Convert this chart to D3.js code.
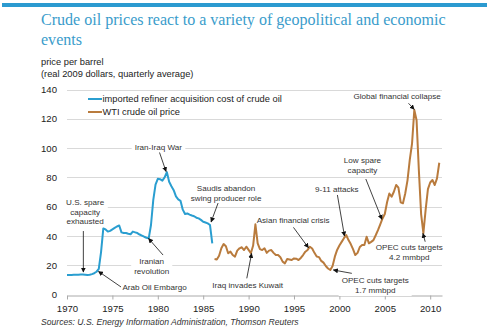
<!DOCTYPE html>
<html><head><meta charset="utf-8">
<script src="https://cdn.jsdelivr.net/npm/d3@7"></script>
<style>
body{margin:0;background:#fff;}
svg{display:block;font-family:Arial,"Liberation Sans",Helvetica,sans-serif;}
</style></head>
<body>
<svg id="chart" width="489" height="330"></svg>
<script>
// ---------- data ----------
const racYears = [1970,1970.25,1970.5,1970.75,1971,1971.25,1971.5,1971.75,1972,1972.25,1972.5,1972.75,
  1973,1973.25,1973.5,1973.75,1974,1974.25,1974.5,1974.75,1975,1975.25,1975.5,1975.75,
  1976,1976.25,1976.5,1976.75,1977,1977.25,1977.5,1977.75,1978,1978.25,1978.5,1978.75,
  1979,1979.25,1979.5,1979.75,1980,1980.25,1980.5,1980.75,1981,1981.25,1981.5,1981.75,
  1982,1982.25,1982.5,1982.75,1983,1983.25,1983.5,1983.75,1984,1984.25,1984.5,1984.75,
  1985,1985.25,1985.5,1985.75,1986];
const racValues = [13.4,13.4,13.4,13.5,13.6,13.6,13.7,13.7,13.6,13.4,13.5,14.0,
  14.6,15.6,17.5,29.0,45.2,44.5,43.0,43.5,44.5,45.5,46.5,47.2,
  42.5,42.0,42.0,41.5,41.2,43.0,42.5,42.0,41.0,40.3,39.5,38.8,
  38.4,47.5,64.5,75.0,79.0,78.8,77.8,80.0,83.5,77.0,74.0,71.3,
  67.0,65.0,64.0,58.0,55.0,55.4,54.6,54.0,53.5,52.5,52.0,51.0,
  49.7,49.2,48.6,47.5,35.0];

const wtiYears = [1986.25,1986.5,1986.75,1987,1987.25,1987.5,1987.75,1988,1988.25,1988.5,1988.75,
  1989,1989.25,1989.5,1989.75,1990,1990.25,1990.5,1990.75,1991,1991.25,1991.5,1991.75,
  1992,1992.25,1992.5,1992.75,1993,1993.25,1993.5,1993.75,1994,1994.25,1994.5,1994.75,
  1995,1995.25,1995.5,1995.75,1996,1996.25,1996.5,1996.75,1997,1997.25,1997.5,1997.75,
  1998,1998.25,1998.5,1998.75,1999,1999.25,1999.5,1999.75,2000,2000.25,2000.5,2000.75,
  2001,2001.25,2001.5,2001.75,2002,2002.25,2002.5,2002.75,2003,2003.25,2003.5,2003.75,
  2004,2004.25,2004.5,2004.75,2005,2005.25,2005.5,2005.75,2006,2006.25,2006.5,2006.75,
  2007,2007.25,2007.5,2007.75,2008,2008.25,2008.5,2008.75,2009,2009.25,2009.5,2009.75,
  2010,2010.25,2010.5,2010.75,2011];
const wtiValues = [24.3,24.0,26.5,31.6,34.5,33.0,28.2,29.3,27.0,25.9,30.0,
  31.6,32.3,30.4,32.7,30.5,28.2,33.5,48.0,35.0,31.0,30.4,31.6,
  28.5,30.0,30.4,28.5,27.0,27.0,25.5,22.5,21.3,24.3,24.0,23.6,
  24.7,24.5,23.6,25.0,27.0,29.3,30.5,32.7,31.5,28.5,26.0,25.6,
  23.0,21.8,19.5,17.8,16.8,19.5,25.9,30.5,33.5,36.0,38.5,40.7,
  37.2,34.5,31.0,27.0,28.5,32.5,33.8,33.8,39.5,35.0,36.0,37.2,
  40.5,44.0,48.0,52.0,55.0,63.0,69.0,66.8,70.2,74.8,73.0,63.0,
  62.3,69.0,78.0,92.0,103.0,126.0,119.0,85.0,55.0,42.0,58.0,72.0,
  76.5,78.2,74.8,79.3,90.0];

const yTicks = [0,20,40,60,80,100,120,140];
const xTicks = [1970,1975,1980,1985,1990,1995,2000,2005,2010];
const seriesNames = ["imported refiner acquisition cost of crude oil","WTI crude oil price"];
const seriesColors = ["#2a9ed0","#b97b3d"];

// annotations: text lines, text anchor (year,value), tail & tip (year,value)
const annotations = [
  {lines:["U.S. spare","capacity","exhausted"], tx:1972.0, ty:61.2, anchor:"middle", tail:[1971.8,43.4], tip:[1971.8,15.4]},
  {lines:["Arab Oil Embargo"], tx:1976.1, ty:2.8, anchor:"start", tail:[1975.95,5.2], tip:[1973.47,15.8]},
  {lines:["Iranian","revolution"], tx:1979.33, ty:20.9, anchor:"middle", tail:[1980.58,27.0], tip:[1978.98,38.3]},
  {lines:["Iran-Iraq War"], tx:1980.06, ty:99.0, anchor:"middle", tail:[1980.19,97.0], tip:[1980.91,84.0]},
  {lines:["Saudis abandon","swing producer role"], tx:1987.52, ty:70.7, anchor:"middle", tail:[1986.64,62.5], tip:[1985.87,49.6]},
  {lines:["Iraq invades Kuwait"], tx:1986.01, ty:4.2, anchor:"start", tail:[1989.8,11.1], tip:[1990.33,28.1]},
  {lines:["Asian financial crisis"], tx:1994.9, ty:49.2, anchor:"middle", tail:[1994.94,45.9], tip:[1996.59,32.0]},
  {lines:["9-11 attacks"], tx:1999.72, ty:70.0, anchor:"middle", tail:[1999.78,68.0], tip:[2000.56,40.0]},
  {lines:["Low spare","capacity"], tx:2002.54, ty:89.5, anchor:"middle", tail:[2002.91,78.9], tip:[2004.68,51.4]},
  {lines:["Global financial collapse"], tx:2006.36, ty:133.5, anchor:"middle", tail:[2007.61,130.6], tip:[2008.24,126.5]},
  {lines:["OPEC cuts targets","1.7 mmbpd"], tx:2003.94, ty:7.6, anchor:"middle", tail:[2001.37,14.5], tip:[1999.34,16.8]},
  {lines:["OPEC cuts targets","4.2 mmbpd"], tx:2007.69, ty:30.4, anchor:"middle", tail:[2009.45,36.1], tip:[2009.2,41.8]}
];

// ---------- chart ----------
const svg = d3.select("#chart");
const x = d3.scaleLinear().domain([1970, 2011.3]).range([67, 442]);
const y = d3.scaleLinear().domain([0, 140]).range([294.6, 89.5]);

// top bar
svg.append("rect").attr("x",2).attr("y",3).attr("width",485).attr("height",4).attr("fill","#2b9ad0");

// title
const title = svg.append("text").attr("x",41).attr("y",25)
  .attr("font-family","Georgia,'Liberation Serif','DejaVu Serif',serif")
  .attr("fill","#3a9ccb").attr("font-size",17);
title.append("tspan").attr("x",41).attr("y",25).text("Crude oil prices react to a variety of geopolitical and economic");
title.append("tspan").attr("x",41).attr("y",44.5).text("events");
(function(){
  const t = title.select("tspan").node();
  const w = t.getComputedTextLength();
  title.attr("font-size", 17*405/w);
})();

svg.append("text").attr("x",41).attr("y",65).attr("font-size",9.3).attr("fill","#222").text("price per barrel");
svg.append("text").attr("x",41).attr("y",77).attr("font-size",9.3).attr("fill","#222").text("(real 2009 dollars, quarterly average)");

// gridlines
svg.append("g").selectAll("line").data(yTicks.filter(d=>d>0)).join("line")
  .attr("x1",x.range()[0]).attr("x2",x.range()[1])
  .attr("y1",d=>Math.round(y(d))+0.5).attr("y2",d=>Math.round(y(d))+0.5)
  .attr("stroke","#d9d9d9").attr("stroke-width",1);

// y axis labels
const yAxis = d3.axisLeft(y).tickValues(yTicks).tickSize(0).tickPadding(10).tickFormat(d3.format("d"));
const gy = svg.append("g").attr("transform",`translate(${x.range()[0]},0)`).call(yAxis);
gy.select(".domain").remove();
gy.selectAll("text").attr("font-size",9.6).attr("fill","#222").attr("font-family","Arial,'Liberation Sans',sans-serif");

// x axis
const xAxis = d3.axisBottom(x).tickValues(xTicks).tickSize(4).tickSizeOuter(0).tickPadding(6).tickFormat(d3.format("d"));
const gx = svg.append("g").attr("transform",`translate(0,${Math.round(y(0))+0.5})`).call(xAxis);
gx.select(".domain").attr("stroke","#aaa");
gx.selectAll(".tick line").attr("stroke","#aaa");
gx.selectAll("text").attr("font-size",9.6).attr("fill","#222").attr("font-family","Arial,'Liberation Sans',sans-serif");

// annotation backing
const annBg = svg.append("g");
const lineGen = d3.line().x(d=>x(d[0])).y(d=>y(d[1]));

// series
const racData = racYears.map((yr,i)=>[yr, racValues[i]]);
const wtiData = wtiYears.map((yr,i)=>[yr, wtiValues[i]]);
svg.append("path").datum(racData).attr("d",lineGen).attr("fill","none")
  .attr("stroke",seriesColors[0]).attr("stroke-width",2).attr("stroke-linejoin","round");
svg.append("path").datum(wtiData).attr("d",lineGen).attr("fill","none")
  .attr("stroke",seriesColors[1]).attr("stroke-width",2).attr("stroke-linejoin","round");

// legend
const leg = svg.append("g");
seriesNames.forEach((n,i)=>{
  const ly = 99 + i*13;
  leg.append("line").attr("x1",88).attr("x2",102).attr("y1",ly).attr("y2",ly)
    .attr("stroke",seriesColors[i]).attr("stroke-width",2);
  leg.append("text").attr("x",102.5).attr("y",ly+3.3).attr("font-size",9.3).attr("fill","#222").text(n);
});

// arrow marker
svg.append("defs").append("marker").attr("id","arr").attr("viewBox","0 0 10 10")
  .attr("refX",9).attr("refY",5).attr("markerWidth",5).attr("markerHeight",5)
  .attr("orient","auto").attr("markerUnits","userSpaceOnUse")
  .append("path").attr("d","M0,0 L10,5 L0,10 z").attr("fill","#111");

const annG = svg.append("g");
annotations.forEach(a=>{
  annG.append("line")
    .attr("x1",x(a.tail[0])).attr("y1",y(a.tail[1]))
    .attr("x2",x(a.tip[0])).attr("y2",y(a.tip[1]))
    .attr("stroke","#111").attr("stroke-width",0.8).attr("marker-end","url(#arr)");
  const t = annG.append("text").attr("text-anchor",a.anchor).attr("font-size",8.1).attr("fill","#333");
  a.lines.forEach((l,i)=>{
    t.append("tspan").attr("x",x(a.tx)).attr("y",y(a.ty)+i*9.6).text(l);
  });
  const bb = t.node().getBBox();
  annBg.append("rect").attr("x",bb.x-3).attr("y",bb.y-1).attr("width",bb.width+6).attr("height",bb.height+2).attr("fill","#fff");
});

// source
svg.append("text").attr("x",41).attr("y",325).attr("font-size",8.6).attr("font-style","italic")
  .attr("fill","#333").text("Sources: U.S. Energy Information Administration, Thomson Reuters");
</script>
</body></html>
